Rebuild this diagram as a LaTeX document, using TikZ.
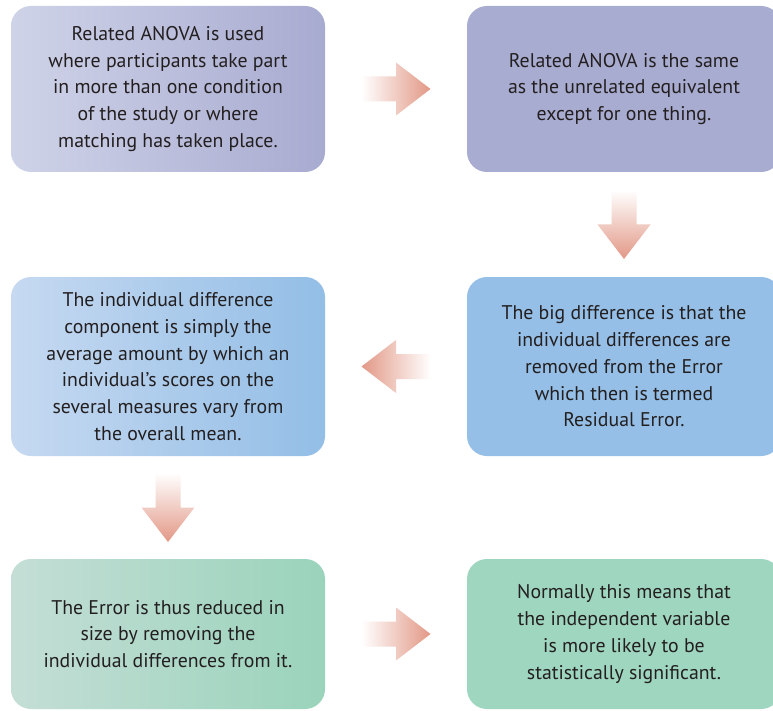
\documentclass[tikz,border=0pt]{standalone}
\usepackage{fontspec}
\setmainfont{PT Sans}
\usetikzlibrary{calc}

\definecolor{txt}{HTML}{231F20}
\definecolor{lavL}{HTML}{CFD3E8}
\definecolor{lavR}{HTML}{A8ABD0}
\definecolor{lav}{HTML}{A9ACD1}
\definecolor{bluL}{HTML}{C6D9F1}
\definecolor{bluR}{HTML}{93BEE6}
\definecolor{blu}{HTML}{95BFE6}
\definecolor{grnL}{HTML}{C4DED6}
\definecolor{grnR}{HTML}{9AD3BB}
\definecolor{grn}{HTML}{9FD6BF}
\definecolor{amid}{HTML}{F1CBBE}
\definecolor{aend}{HTML}{E29886}

\begin{document}
\begin{tikzpicture}[x=1pt,y=-1pt,
  box/.style={rounded corners=20pt, minimum width=314pt, inner sep=0pt,
    align=center, text=txt, font=\fontsize{19.8}{26.75}\selectfont},
  rarrow/.pic={\shade[left color=white, middle color=amid, right color=aend]
    (-34.5,-12.5) -- (0,-12.5) -- (0,-26.5) -- (34.5,0) -- (0,26.5)
    -- (0,12.5) -- (-34.5,12.5) -- cycle;},
  larrow/.pic={\shade[right color=white, middle color=amid, left color=aend]
    (34.5,-12.5) -- (0,-12.5) -- (0,-26.5) -- (-34.5,0) -- (0,26.5)
    -- (0,12.5) -- (34.5,12.5) -- cycle;},
  darrow/.pic={\shade[top color=white, middle color=amid, bottom color=aend]
    (-12.5,-34.5) -- (12.5,-34.5) -- (12.5,0) -- (26.5,0) -- (0,34.5)
    -- (-26.5,0) -- (-12.5,0) -- cycle;}
]
\clip (0,0) rectangle (773,711);
\fill[white] (0,0) rectangle (773,711);

% the six text panels
\node[box, minimum height=166pt, left color=lavL, right color=lavR] (b1) at (168,89)
  {Related ANOVA is used\\where participants take part\\in more than one condition\\of the study or where\\matching has taken place.};
\node[box, minimum height=166pt, fill=lav] (b2) at (624,89)
  {Related ANOVA is the same\\as the unrelated equivalent\\except for one thing.};
\node[box, minimum height=179pt, left color=bluL, right color=bluR] (b3) at (168,366.5)
  {The individual difference\\component is simply the\\average amount by which an\\individual’s scores on the\\several measures vary from\\the overall mean.};
\node[box, minimum height=179pt, fill=blu] (b4) at (624,366.5)
  {The big difference is that the\\individual differences are\\removed from the Error\\which then is termed\\Residual Error.};
\node[box, minimum height=150pt, left color=grnL, right color=grnR] (b5) at (168,634)
  {The Error is thus reduced in\\size by removing the\\individual differences from it.};
\node[box, minimum height=150pt, fill=grn] (b6) at (624,634)
  {Normally this means that\\the independent variable\\is more likely to be\\statistically significant.};

% block arrows between the panels
\pic at ($(b1.east)!0.5!(b2.west)$) {rarrow};
\pic at ($(b2.south)!0.5!(b4.north)$) {darrow};
\pic at ($(b4.west)!0.5!(b3.east)$) {larrow};
\pic at ($(b3.south)!0.5!(b5.north)$) {darrow};
\pic at ($(b5.east)!0.5!(b6.west)$) {rarrow};
\end{tikzpicture}
\end{document}
